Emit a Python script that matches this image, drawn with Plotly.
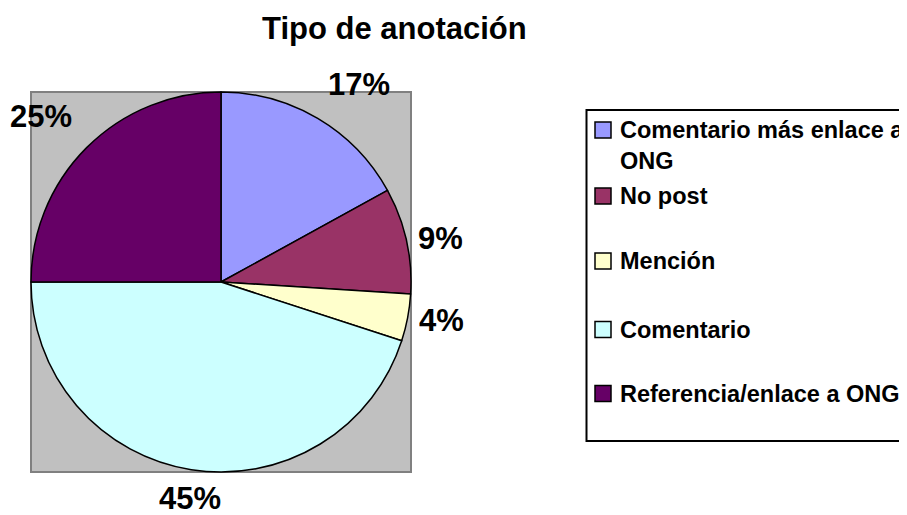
import math
import textwrap
import plotly.graph_objects as go

# ---- data ----
labels = ["Comentario más enlace a ONG", "No post", "Mención", "Comentario", "Referencia/enlace a ONG"]
values = [17, 9, 4, 45, 25]
colors = ["#9999FF", "#993366", "#FFFFCC", "#CCFFFF", "#660066"]
title_text = "Tipo de anotación"

# page has an 8px body margin; size the figure so the visible window matches
OFF = 8
W, H = 907 - OFF, 515 - OFF
FONT = "Liberation Sans, Arial, sans-serif"

# plot area (screen pixels)
px0, px1, py0, py1 = 31, 411, 92, 472
cx, cy, r = (px0 + px1) / 2, (py0 + py1) / 2, (px1 - px0) / 2


def fx(x):
    return (x - OFF) / W


def fy(y):
    return 1 - (y - OFF) / H


fig = go.Figure()
fig.add_trace(go.Pie(
    labels=labels,
    values=values,
    marker=dict(colors=colors, line=dict(color="#000000", width=1.5)),
    sort=False,
    direction="clockwise",
    rotation=0,
    textinfo="none",
    domain=dict(x=[fx(px0), fx(px1)], y=[fy(py1), fy(py0)]),
    showlegend=False,
    automargin=False,
))

shapes = [
    dict(type="rect", xref="paper", yref="paper",
         x0=fx(px0), x1=fx(px1), y0=fy(py1), y1=fy(py0),
         fillcolor="#C0C0C0", line=dict(color="#808080", width=2), layer="below"),
    # legend box (right edge runs off the page as in the reference)
    dict(type="rect", xref="paper", yref="paper",
         x0=fx(586.5), x1=fx(940), y0=fy(441), y1=fy(110),
         fillcolor="rgba(0,0,0,0)", line=dict(color="#000000", width=2)),
]

annotations = [
    dict(text="<b>" + title_text + "</b>", x=fx(394), y=fy(29), xref="paper", yref="paper",
         xanchor="center", yanchor="middle", showarrow=False,
         font=dict(family=FONT, size=31, color="#000000")),
]

# percentage labels placed outside each slice (Excel-style best fit)
total = sum(values)
cum = 0.0
for v in values:
    mid = (cum + v / 2) / total * 2 * math.pi
    cum += v
    s, c = math.sin(mid), math.cos(mid)
    xa = "left" if s > 0.3 else ("right" if s < -0.3 else "center")
    ya = "bottom" if c > 0.3 else ("top" if c < -0.3 else "middle")
    gap = 19 if ya == "bottom" else (10 if ya == "top" else 11)
    ax, ay = cx + (r + gap) * s, cy - (r + gap) * c
    annotations.append(dict(text="<b>%d%%</b>" % round(100 * v / total),
                            x=fx(ax), y=fy(ay), xref="paper", yref="paper",
                            xanchor=xa, yanchor=ya, showarrow=False,
                            height=34, valign="middle", borderpad=0,
                            font=dict(family=FONT, size=31, color="#000000")))

# manual legend (Excel-style uneven spacing)
row_centers = [130, 196, 261, 329.5, 393.5]
for lab, col, yc in zip(labels, colors, row_centers):
    shapes.append(dict(type="rect", xref="paper", yref="paper",
                       x0=fx(595), x1=fx(611), y0=fy(yc + 8), y1=fy(yc - 8),
                       fillcolor=col, line=dict(color="#000000", width=1.5)))
    wrapped = "<br>".join(textwrap.wrap(lab, 24))
    annotations.append(dict(text="<b>" + wrapped + "</b>", x=fx(618), y=fy(yc - 15),
                            xref="paper", yref="paper", xanchor="left", yanchor="top",
                            align="left", showarrow=False,
                            font=dict(family=FONT, size=23.5, color="#000000")))

fig.update_layout(
    width=W, height=H,
    margin=dict(l=0, r=0, t=0, b=0),
    paper_bgcolor="#FFFFFF",
    plot_bgcolor="#FFFFFF",
    shapes=shapes,
    annotations=annotations,
    font=dict(family=FONT),
)

fig.write_html("out.html")
